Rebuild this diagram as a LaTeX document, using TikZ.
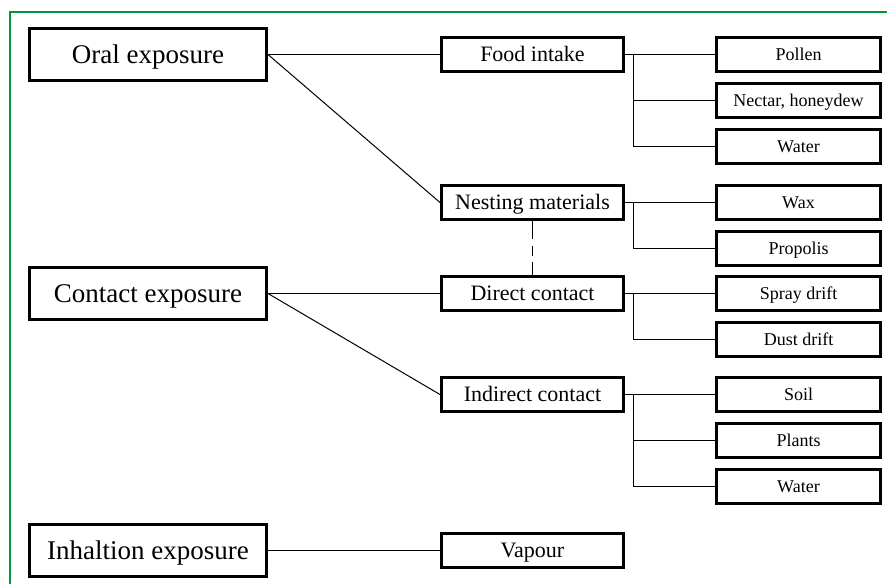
\documentclass[tikz,border=0pt]{standalone}
\usepackage{fontspec}
\setmainfont{Liberation Serif}
\usetikzlibrary{positioning}
\definecolor{framegreen}{RGB}{0,150,64}

\begin{document}
\begin{tikzpicture}[x=1pt,y=-1pt,node distance=9pt,
    exposure/.style={draw,line width=3pt,minimum width=237pt,minimum height=52pt,inner sep=0pt,text height=18pt,text depth=0pt,font=\fontsize{27}{30}\selectfont},
    route/.style={draw,line width=3pt,minimum width=182pt,minimum height=34pt,inner sep=0pt,text height=14.5pt,text depth=0pt,font=\fontsize{22}{24}\selectfont},
    source/.style={draw,line width=3pt,minimum width=164pt,minimum height=34pt,inner sep=0pt,text height=12pt,text depth=0pt,font=\fontsize{18}{20}\selectfont},
    link/.style={line width=1pt}]
  \useasboundingbox (0,0) rectangle (887,584);
  \draw[framegreen,line width=2pt] (10,584) -- (10,12) -- (887,12);

  % exposure routes
  \node[exposure] (oral) at (148,54.5) {Oral exposure};
  \node[exposure] (contact) at (148,293.5) {Contact exposure};
  \node[exposure] (inhal) at (148,550.5) {Inhaltion exposure};

  \node[route] (food) [right=172pt of oral] {Food intake};
  \node[route] (direct) [right=172pt of contact] {Direct contact};
  \node[route] (nest) [above=54pt of direct] {Nesting materials};
  \node[route] (indirect) [below=64pt of direct] {Indirect contact};
  \node[route] (vapour) [right=172pt of inhal] {Vapour};

  % sources
  \node[source] (pollen) [right=90pt of food] {Pollen};
  \node[source] (nectar) [below=of pollen] {Nectar, honeydew};
  \node[source] (water1) [below=of nectar] {Water};
  \node[source] (wax) [right=90pt of nest] {Wax};
  \node[source] (propolis) [below=of wax] {Propolis};
  \node[source] (spray) [right=90pt of direct] {Spray drift};
  \node[source] (dust) [below=of spray] {Dust drift};
  \node[source] (soil) [right=90pt of indirect] {Soil};
  \node[source] (plants) [below=of soil] {Plants};
  \node[source] (water2) [below=of plants] {Water};

  \coordinate (foodfork) at ([xshift=8pt]food.east);
  \coordinate (nestfork) at ([xshift=8pt]nest.east);
  \coordinate (directfork) at ([xshift=8pt]direct.east);
  \coordinate (indirectfork) at ([xshift=8pt]indirect.east);

  \path[link] (oral.east) edge (food.west)
        (oral.east) edge (nest.west)
        (contact.east) edge (direct.west)
        (contact.east) edge (indirect.west)
        (inhal.east) edge (vapour.west)
        (food.east) edge (pollen.west)
        (nest.east) edge (wax.west)
        (direct.east) edge (spray.west)
        (indirect.east) edge (soil.west)
        ;
  \draw[link] (foodfork) |- (nectar.west);
  \draw[link] (foodfork) |- (water1.west);
  \draw[link] (nestfork) |- (propolis.west);
  \draw[link] (directfork) |- (dust.west);
  \draw[link] (indirectfork) |- (plants.west);
  \draw[link] (indirectfork) |- (water2.west);
  \draw[link,dash pattern=on 18pt off 7pt on 10pt off 6pt] (nest.south) -- (direct.north);
\end{tikzpicture}
\end{document}
